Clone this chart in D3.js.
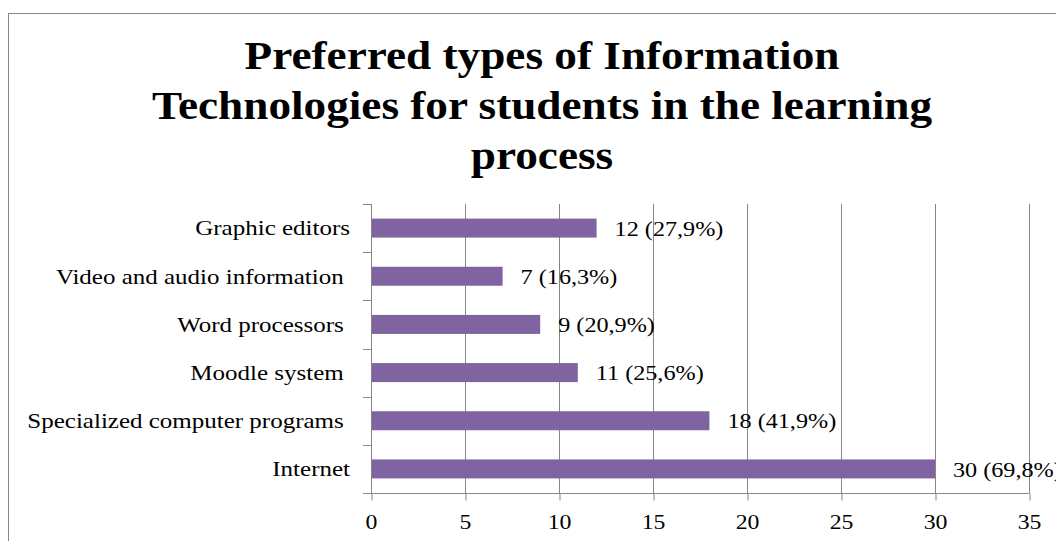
<!DOCTYPE html>
<html>
<head>
<meta charset="utf-8">
<script src="https://cdn.jsdelivr.net/npm/d3@7"></script>
<style>
  body { margin: 0; background: #fff; }
  svg { display: block; font-family: "Liberation Serif", "Times New Roman", serif; }
</style>
</head>
<body>
<div id="chart"></div>
<script>
const categories = [
  "Graphic editors",
  "Video and audio information ",
  "Word processors ",
  "Moodle system ",
  "Specialized computer programs ",
  "Internet"
];
const counts = [12, 7, 9, 11, 18, 30];
const shares = ["27,9%", "16,3%", "20,9%", "25,6%", "41,9%", "69,8%"];
const xTicks = [0, 5, 10, 15, 20, 25, 30, 35];
const titleLines = [
  "Preferred types of Information",
  "Technologies for students in the learning",
  "process"
];

const width = 1056, height = 541;
const plot = {left: 371, right: 1029, top: 204, bottom: 493};

// the source text is set a bit wide, so stretch glyphs horizontally
function place(x, y, sx) {
  return `translate(${x},${y}) scale(${sx},1)`;
}

const svg = d3.select("#chart").append("svg")
    .attr("width", width)
    .attr("height", height);

// chart frame
svg.append("rect")
    .attr("x", 8.5)
    .attr("y", 13.5)
    .attr("width", width)
    .attr("height", height)
    .attr("fill", "#fff")
    .attr("stroke", "#868686");

svg.append("g")
    .attr("font-weight", "bold")
    .attr("font-size", 39)
    .attr("text-anchor", "middle")
  .selectAll("text")
  .data(titleLines)
  .enter().append("text")
    .attr("transform", (d, i) => place(542, 69 + i * 50, 1.16))
    .text(d => d);

const x = d3.scaleLinear().domain([0, 35]).range([plot.left, plot.right]);
const band = d3.scaleBand().domain(categories).range([plot.top, plot.bottom]);

// gridlines
svg.append("g")
    .attr("stroke", "#868686")
  .selectAll("line")
  .data(xTicks.slice(1))
  .enter().append("line")
    .attr("x1", d => Math.round(x(d)) + 0.5)
    .attr("x2", d => Math.round(x(d)) + 0.5)
    .attr("y1", plot.top)
    .attr("y2", plot.bottom);

svg.append("g")
    .attr("fill", "#8064A2")
  .selectAll("rect")
  .data(counts)
  .enter().append("rect")
    .attr("x", x(0))
    .attr("y", (d, i) => band(categories[i]) + band.bandwidth() / 2 - 9.5)
    .attr("width", d => x(d) - x(0))
    .attr("height", 19);

// x axis
const xAxis = svg.append("g")
    .attr("transform", `translate(0,${plot.bottom + 0.5})`)
    .call(d3.axisBottom(x).tickValues(xTicks).tickSize(7).tickPadding(13));
xAxis.select(".domain").attr("stroke", "#868686").attr("d", `M${plot.left - 7},0H${plot.right + 0.5}`);
xAxis.selectAll(".tick line").attr("stroke", "#868686").attr("transform", "translate(0.5,0)");
xAxis.selectAll(".tick text")
    .attr("font-family", "Liberation Serif, serif")
    .attr("font-size", 22)
    .attr("transform", "scale(1.08,1)")
    .attr("fill", "#000");

// y axis: line with ticks at band edges
const yEdges = categories.map(c => band(c)).concat([plot.bottom]);
svg.append("line")
    .attr("x1", plot.left + 0.5).attr("x2", plot.left + 0.5)
    .attr("y1", plot.top).attr("y2", plot.bottom)
    .attr("stroke", "#868686");
svg.append("g")
    .attr("stroke", "#868686")
  .selectAll("line")
  .data(yEdges)
  .enter().append("line")
    .attr("x1", plot.left - 8).attr("x2", plot.left)
    .attr("y1", d => Math.round(d) + 0.5)
    .attr("y2", d => Math.round(d) + 0.5);

svg.append("g")
    .attr("font-size", 21)
    .attr("text-anchor", "end")
  .selectAll("text")
  .data(categories)
  .enter().append("text")
    .attr("transform", d => place(350, band(d) + band.bandwidth() / 2, 1.19))
    .attr("dy", "0.35em")
    .text(d => d.replace(/ $/, "\u00a0"));

svg.append("g")
    .attr("font-size", 22)
  .selectAll("text")
  .data(counts)
  .enter().append("text")
    .attr("transform", (d, i) => place(x(d) + 18, band(categories[i]) + band.bandwidth() / 2, 1.1))
    .attr("dy", "0.35em")
    .text((d, i) => `${d} (${shares[i]})`);
</script>
</body>
</html>
